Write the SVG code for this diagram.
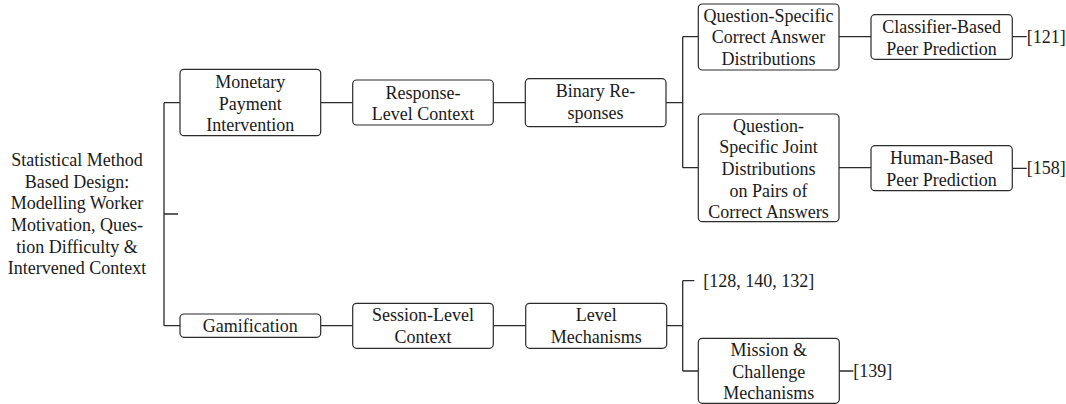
<svg xmlns="http://www.w3.org/2000/svg" width="1066" height="404" viewBox="0 0 1066 404">
<style>
text{font-family:'Liberation Serif','DejaVu Serif',serif;font-size:18px;fill:#1a1a1a;text-anchor:middle}
.box{fill:#fff;stroke:#2b2b2b;stroke-width:1.2}
.ref{text-anchor:start}
#connectors path{fill:none;stroke:#2b2b2b;stroke-width:1.3}
</style>
<rect width="1066" height="404" fill="#fff"/>
<g id="connectors">
<path d="M164,102.7V325.7M164,102.7H180M164,325.7H180M164,214H178"/>
<path d="M320.7,102.7H352.7M493.3,102.7H525.3M666,102.7H682.7M682.7,36.7V167.7M682.7,36.7H698.3M682.7,167.7H698.3"/>
<path d="M839,36.7H871M1012.3,36.7H1026.7M839,167.7H871M1012.3,168.3H1026.7"/>
<path d="M320.7,325.7H352.7M493.3,325.7H525.7M666.7,325.7H682.7M682.7,280.7V371M682.7,280.7H694.3M682.7,371H698.3M839.3,371H853.3"/>
</g>
<g id="root">
<text x="77" y="165.8">Statistical Method</text>
<text x="77" y="187.5">Based Design:</text>
<text x="77" y="209.2">Modelling Worker</text>
<text x="77" y="230.9">Motivation, Ques-</text>
<text x="77" y="252.6">tion Difficulty &amp;</text>
<text x="77" y="274.3">Intervened Context</text>
</g>
<g id="monetary">
<rect class="box" x="180" y="69.3" width="140.7" height="66.4" rx="4"/>
<text x="250.3" y="87.8">Monetary</text>
<text x="250.3" y="109.5">Payment</text>
<text x="250.3" y="131.2">Intervention</text>
</g>
<g id="response-level">
<rect class="box" x="352.7" y="80" width="140.6" height="45" rx="4"/>
<text x="423" y="98.5">Response-</text>
<text x="423" y="120.2">Level Context</text>
</g>
<g id="binary">
<rect class="box" x="525.3" y="78.7" width="140.7" height="48" rx="4"/>
<text x="595.6" y="97">Binary Re-</text>
<text x="595.6" y="118.7">sponses</text>
</g>
<g id="qs-correct">
<rect class="box" x="698.3" y="4" width="140.7" height="66" rx="4"/>
<text x="768.6" y="21.5">Question-Specific</text>
<text x="768.6" y="43.2">Correct Answer</text>
<text x="768.6" y="64.9">Distributions</text>
</g>
<g id="classifier">
<rect class="box" x="871" y="14.7" width="141.3" height="44.6" rx="4"/>
<text x="941.6" y="32.8">Classifier-Based</text>
<text x="941.6" y="54.5">Peer Prediction</text>
</g>
<g id="ref121"><text class="ref" x="1026.7" y="42.7">[121]</text></g>
<g id="qs-joint">
<rect class="box" x="698.3" y="114" width="140.7" height="107.7" rx="4"/>
<text x="768.6" y="131.5">Question-</text>
<text x="768.6" y="153.2">Specific Joint</text>
<text x="768.6" y="174.9">Distributions</text>
<text x="768.6" y="196.6">on Pairs of</text>
<text x="768.6" y="218.3">Correct Answers</text>
</g>
<g id="human">
<rect class="box" x="871" y="145.7" width="141.3" height="45" rx="4"/>
<text x="941.6" y="164">Human-Based</text>
<text x="941.6" y="185.7">Peer Prediction</text>
</g>
<g id="ref158"><text class="ref" x="1026.7" y="174.3">[158]</text></g>
<g id="gamification">
<rect class="box" x="180" y="314" width="140.7" height="23.3" rx="4"/>
<text x="250.3" y="331.8">Gamification</text>
</g>
<g id="session-level">
<rect class="box" x="352.7" y="303.3" width="140.6" height="45" rx="4"/>
<text x="423" y="321">Session-Level</text>
<text x="423" y="342.7">Context</text>
</g>
<g id="level-mech">
<rect class="box" x="525.7" y="303.3" width="141" height="45" rx="4"/>
<text x="596.2" y="321">Level</text>
<text x="596.2" y="342.7">Mechanisms</text>
</g>
<g id="ref128"><text class="ref" x="703.3" y="286.7">[128, 140, 132]</text></g>
<g id="mission">
<rect class="box" x="698.3" y="338.3" width="141" height="65" rx="4"/>
<text x="768.8" y="355.8">Mission &amp;</text>
<text x="768.8" y="377.5">Challenge</text>
<text x="768.8" y="399.2">Mechanisms</text>
</g>
<g id="ref139"><text class="ref" x="853.3" y="377">[139]</text></g>
</svg>
